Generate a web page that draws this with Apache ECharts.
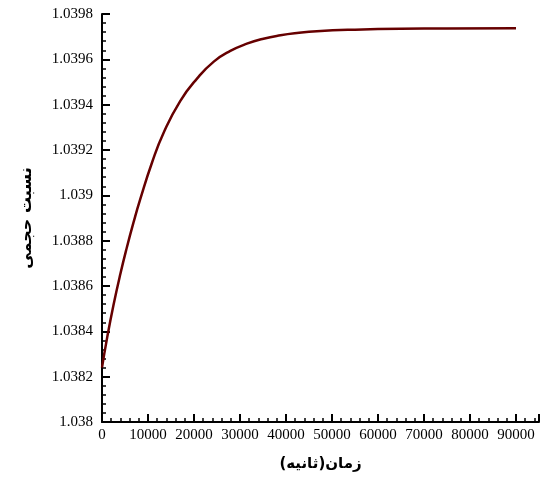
<!DOCTYPE html>
<html>
<head>
<meta charset="utf-8">
<script src="https://cdn.jsdelivr.net/npm/echarts@6/dist/echarts.min.js"></script>
<style>html,body{margin:0;padding:0;background:#fff;}#c{width:545px;height:477px;}</style>
</head>
<body>
<div id="c"></div>
<script>
const timeSeconds = [0, 1100, 2500, 4000, 5400, 6900, 8300, 10900, 13400, 17000, 20700, 24300, 27900, 31500, 35100, 38800, 42400, 46700, 55000, 65000, 75000, 90000];
const volumeRatio = [1.03824, 1.03837, 1.038516, 1.038654, 1.03877, 1.038884, 1.038982, 1.039146, 1.039276, 1.039416, 1.039516, 1.03959, 1.039637, 1.039669, 1.039691, 1.039706, 1.039716, 1.039724, 1.039731, 1.039735, 1.039736, 1.039737];
const xTitle = 'زمان(ثانیه)';
const yTitle = 'نسبت حجمی';

const chart = echarts.init(document.getElementById('c'));
const serif = 'Liberation Serif';
chart.setOption({
  animation: false,
  backgroundColor: '#fff',
  grid: { left: 102, top: 14, right: 6, bottom: 53 },
  xAxis: {
    type: 'value', min: 0, max: 95000, interval: 10000,
    name: xTitle, nameLocation: 'middle', nameGap: 35,
    nameTextStyle: { fontFamily: 'DejaVu Sans', fontWeight: 'bold', fontSize: 15, color: '#000' },
    axisLine: { lineStyle: { color: '#000', width: 2 } },
    axisTick: { inside: true, length: 8, lineStyle: { color: '#000', width: 2 } },
    minorTick: { show: true, splitNumber: 5, length: 4, lineStyle: { color: '#000', width: 1.5 } },
    axisLabel: { fontFamily: serif, fontSize: 15, color: '#000', margin: 6,
      formatter: v => (v > 90000 ? '' : String(v)) },
    splitLine: { show: false }
  },
  yAxis: {
    type: 'value', min: 1.038, max: 1.0398, interval: 0.0002,
    name: yTitle, nameLocation: 'middle', nameGap: 67, nameRotate: 90,
    nameTextStyle: { fontFamily: 'DejaVu Sans', fontWeight: 'bold', fontSize: 16, color: '#000' },
    axisLine: { lineStyle: { color: '#000', width: 2 } },
    axisTick: { inside: true, length: 8, lineStyle: { color: '#000', width: 2 } },
    minorTick: { show: true, splitNumber: 5, length: 4, lineStyle: { color: '#000', width: 1.5 } },
    axisLabel: { fontFamily: serif, fontSize: 15, color: '#000', margin: 9,
      formatter: v => String(parseFloat(v.toFixed(4))) },
    splitLine: { show: false }
  },
  series: [{
    type: 'line',
    data: timeSeconds.map((t, i) => [t, volumeRatio[i]]),
    smooth: 0.5,
    showSymbol: false,
    lineStyle: { color: '#660000', width: 2.5 }
  }]
});
</script>
</body>
</html>
